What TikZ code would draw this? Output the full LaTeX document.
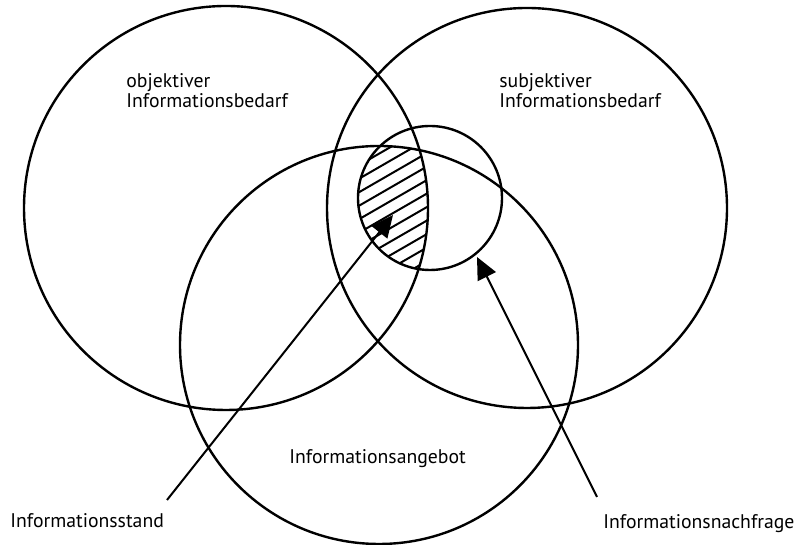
\documentclass[tikz,border=0pt]{standalone}
\usepackage{fontspec}
\setmainfont{PT Sans}
\usetikzlibrary{arrows.meta}
\tikzset{
	lbl/.style={inner sep=0pt, font=\fontsize{9.9}{10.2}\selectfont},
	zeiger/.style={line width=1bp, -{Triangle[length=11bp,width=10bp]}}
}
\begin{document}
\begin{tikzpicture}[x=0.5bp,y=0.5bp]
		\useasboundingbox (0,0) rectangle (799,545);
		\coordinate (objM) at (226,337);
		\coordinate (subM) at (527,337);
		\coordinate (angM) at (379,200);
		\coordinate (nachM) at (430,347);
		% hatched part
		\begin{scope}
			\clip (nachM) circle (72);
			\clip (objM) circle (202);
			\clip (angM) circle (199);
			\foreach \k in {-11,...,5}
			{
				\draw[line width=1bp] (427,392+13.5*\k) ++(210:150) -- ++(30:300);
			}
		\end{scope}
		\draw[line width=1.2bp] (objM) circle (202);
		\draw[line width=1.2bp] (subM) circle (200);
		\draw[line width=1.2bp] (angM) circle (199);
		\draw[line width=1.2bp] (nachM) circle (72);
		\node[lbl, anchor=north west, align=left] (objBed) at (126,472) {objektiver\\Informationsbedarf};
		\node[lbl, anchor=north west, align=left] (subBed) at (499,472) {subjektiver\\Informationsbedarf};
		\node[lbl, anchor=base west] (angebot) at (289,81) {Informationsangebot};
		\node[lbl, anchor=base west] (stand) at (10,17) {Informationsstand};
		\node[lbl, anchor=base west] (nachfrage) at (603,16) {Informationsnachfrage};
		\coordinate (standA) at (167,45);
		\coordinate (standE) at (393,330);
		\coordinate (nachA) at (597,48);
		\coordinate (nachE) at (477,288);
		\draw[zeiger] (standA) -- (standE);
		\draw[zeiger] (nachA) -- (nachE);
		\end{tikzpicture}
\end{document}
